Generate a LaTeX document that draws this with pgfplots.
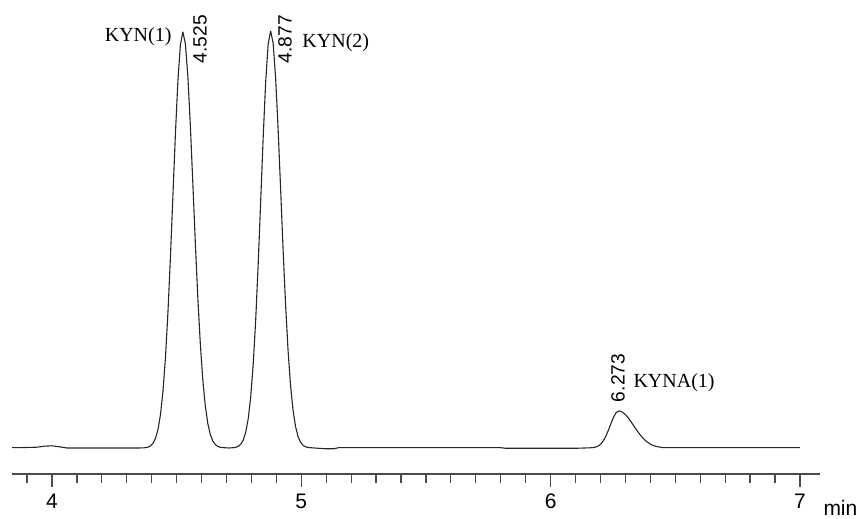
\documentclass[border=0pt]{standalone}
\usepackage{fontspec}
\setmainfont{Liberation Sans}
\newfontfamily\tnr{Liberation Serif}
\usepackage{pgfplots}
\usepackage{pgfplotstable}
\pgfplotsset{compat=1.18}

% chromatogram trace: time (min) vs detector response (arbitrary units)
\pgfplotstableread{
t y
3.84 0.3
3.90 0.5
3.94 0.8
3.97 1.8
4.00 2.2
4.03 1.2
4.06 0.0
4.20 0.0
4.35 0.0
4.37 0.2
4.385 0.8
4.395 2.1
4.405 4.6
4.415 9.5
4.425 18.3
4.435 33.1
4.445 56.3
4.455 90.0
4.465 135.1
4.475 190.4
4.485 252.3
4.495 314.0
4.505 367.1
4.515 403.2
4.525 416.0
4.535 404.4
4.545 371.4
4.555 322.3
4.565 264.3
4.575 204.8
4.585 149.9
4.595 103.7
4.605 67.8
4.615 41.9
4.625 24.4
4.635 13.5
4.645 7.0
4.655 3.5
4.665 1.6
4.675 0.7
4.69 0.3
4.71 0.0
4.727 0.3
4.737 0.7
4.747 1.6
4.757 3.7
4.767 7.8
4.777 15.6
4.787 29.1
4.797 50.9
4.807 83.3
4.817 127.7
4.827 183.3
4.837 246.4
4.847 310.2
4.857 365.6
4.867 403.6
4.877 417.0
4.887 404.8
4.897 370.2
4.907 319.0
4.917 259.1
4.927 198.2
4.937 142.9
4.947 97.1
4.957 62.1
4.967 37.5
4.977 21.3
4.987 11.4
4.997 5.8
5.007 2.7
5.017 1.2
5.027 0.5
5.047 0.1
5.07 -0.3
5.10 -0.8
5.13 -0.8
5.15 0.3
5.50 0.3
5.80 0.3
5.82 -0.3
6.10 -0.3
6.16 0.2
6.173 0.5
6.183 1.1
6.193 2.3
6.203 4.4
6.213 7.8
6.223 12.5
6.233 18.5
6.243 25.1
6.253 31.1
6.263 35.4
6.273 37.0
6.283 36.5
6.293 35.0
6.303 32.7
6.313 29.6
6.323 26.1
6.333 22.4
6.343 18.7
6.353 15.2
6.363 12.0
6.373 9.2
6.383 6.9
6.393 5.0
6.403 3.5
6.413 2.4
6.423 1.6
6.433 1.1
6.443 0.7
6.453 0.4
6.47 0.3
7.00 0.3
}\trace

\begin{document}
\begin{tikzpicture}
\begin{axis}[
  x=124.65pt, y=0.5pt,
  xmin=3.84, xmax=7.08, ymin=-26, ymax=448,
  axis y line=none, axis x line=bottom,
  x axis line style={-, black!70, line width=0.7pt},
  xtick={4,5,6,7},
  minor xtick={3.9,4.1,4.2,4.3,4.4,4.5,4.6,4.7,4.8,4.9,5.1,5.2,5.3,5.4,5.5,5.6,5.7,5.8,5.9,6.1,6.2,6.3,6.4,6.5,6.6,6.7,6.8,6.9},
  tick align=outside,
  major tick length=6.5pt, minor tick length=4.5pt,
  every tick/.style={black!70, line width=0.6pt},
  xticklabel style={font=\fontsize{10.5}{12}\selectfont},
  /pgf/number format/assume math mode=true,
  clip=false,
]
  \path (axis cs:3.7914,448) rectangle (axis cs:7.2451,-71);
  \addplot[black!85, line width=0.55pt, line join=round, mark=none] table[x=t, y=y] {\trace};
  \node[anchor=east, inner sep=0pt, font=\tnr\fontsize{10}{12}\selectfont] at (axis cs:4.481,411) {KYN(1)};
  \node[rotate=90, font=\fontsize{9.6}{11}\selectfont] at (axis cs:4.594,409) {4.525};
  \node[rotate=90, font=\fontsize{9.6}{11}\selectfont] at (axis cs:4.935,409) {4.877};
  \node[anchor=west, inner sep=0pt, font=\tnr\fontsize{10}{12}\selectfont] at (axis cs:5.003,405) {KYN(2)};
  \node[rotate=90, font=\fontsize{9.6}{11}\selectfont] at (axis cs:6.270,70) {6.273};
  \node[anchor=west, inner sep=0pt, font=\tnr\fontsize{10}{12}\selectfont] at (axis cs:6.331,65) {KYNA(1)};
  \node[anchor=east, inner sep=0pt, font=\fontsize{10.5}{12}\selectfont] at (axis cs:7.232,-60) {min};
\end{axis}
\end{tikzpicture}
\end{document}
